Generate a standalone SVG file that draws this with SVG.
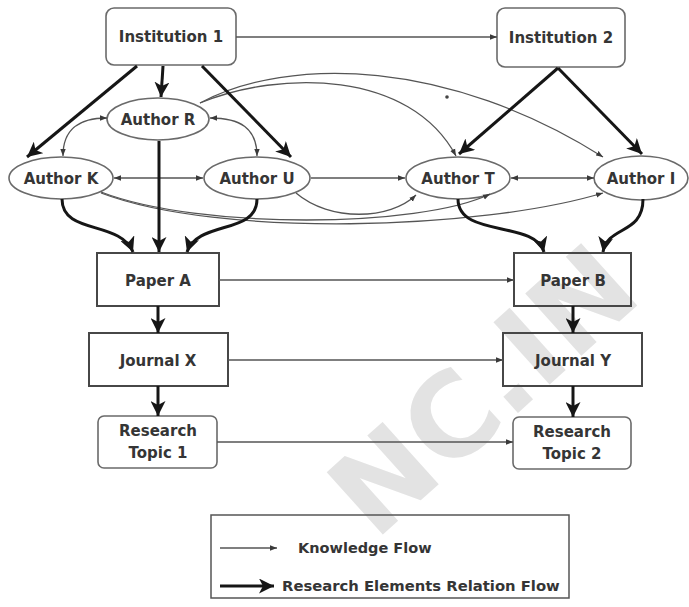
<svg xmlns="http://www.w3.org/2000/svg" width="689" height="607" viewBox="0 0 689 607">
  <style>
    .lbl { font-family: "DejaVu Sans", "Liberation Sans", sans-serif; font-weight: bold; font-size: 15px; fill: #353535; text-anchor: middle; }
    .leg { font-family: "DejaVu Sans", "Liberation Sans", sans-serif; font-weight: bold; fill: #353535; }
    .rbox { fill: none; stroke: #6a6a6a; stroke-width: 1.6; }
    .sbox { fill: none; stroke: #474747; stroke-width: 2; }
    .ell { fill: none; stroke: #6a6a6a; stroke-width: 1.6; }
    .thin { fill: none; stroke: #555; stroke-width: 1.3; marker-end: url(#tip); }
    .both { marker-start: url(#tip); }
    .thick { fill: none; stroke: #161616; stroke-width: 3; marker-end: url(#head); }
    .wm { font-family: "DejaVu Sans", "Liberation Sans", sans-serif; font-weight: bold; font-size: 115px; fill: #e3e3e3; text-anchor: middle; }
  </style>
  <defs>
    <marker id="tip" markerUnits="userSpaceOnUse" markerWidth="7" markerHeight="7" viewBox="0 0 7 7" refX="7" refY="3.5" orient="auto-start-reverse">
      <path d="M0,0.8 L7,3.5 L0,6.2 z" fill="#3a3a3a"/>
    </marker>
    <marker id="head" markerUnits="userSpaceOnUse" markerWidth="15" markerHeight="15" viewBox="0 0 15 15" refX="15" refY="7.5" orient="auto">
      <path d="M0,0 L15,7.5 L0,15 L4,7.5 z" fill="#161616"/>
    </marker>
  </defs>

  <rect width="689" height="607" fill="#ffffff"/>

  <!-- background watermark -->
  <text class="wm" transform="translate(510,420) rotate(-42)">NC.IN</text>

  <!-- nodes -->
  <g id="institution1"><rect class="rbox" x="106" y="8" width="130" height="57" rx="8"/><text class="lbl" x="171" y="42">Institution 1</text></g>
  <g id="institution2"><rect class="rbox" x="497" y="8" width="128" height="59" rx="8"/><text class="lbl" x="561" y="43">Institution 2</text></g>
  <g id="authorR"><ellipse class="ell" cx="158" cy="119" rx="51" ry="21"/><text class="lbl" x="158" y="124.5">Author R</text></g>
  <g id="authorK"><ellipse class="ell" cx="61" cy="178" rx="52" ry="21"/><text class="lbl" x="61" y="183.5">Author K</text></g>
  <g id="authorU"><ellipse class="ell" cx="257" cy="178" rx="53" ry="21"/><text class="lbl" x="257" y="183.5">Author U</text></g>
  <g id="authorT"><ellipse class="ell" cx="458" cy="178" rx="52" ry="21"/><text class="lbl" x="458" y="183.5">Author T</text></g>
  <g id="authorI"><ellipse class="ell" cx="641" cy="178" rx="47" ry="22"/><text class="lbl" x="641" y="183.5">Author I</text></g>
  <g id="paperA"><rect class="sbox" x="97" y="253" width="122" height="53"/><text class="lbl" x="158" y="285.5">Paper A</text></g>
  <g id="paperB"><rect class="sbox" x="514" y="253" width="117" height="53"/><text class="lbl" x="573" y="285.5">Paper B</text></g>
  <g id="journalX"><rect class="sbox" x="89" y="333" width="139" height="53"/><text class="lbl" x="158" y="365.5">Journal X</text></g>
  <g id="journalY"><rect class="sbox" x="503" y="333" width="139" height="53"/><text class="lbl" x="573" y="365.5">Journal Y</text></g>
  <g id="topic1"><rect class="rbox" x="98" y="416" width="119" height="52" rx="6"/><text class="lbl" x="158" y="435.5">Research</text><text class="lbl" x="158" y="457.5">Topic 1</text></g>
  <g id="topic2"><rect class="rbox" x="513" y="417" width="118" height="52" rx="6"/><text class="lbl" x="572" y="436.5">Research</text><text class="lbl" x="572" y="458.5">Topic 2</text></g>

  <!-- connectors -->
  <g id="connectors">
    <!-- knowledge flow -->
    <path class="thin" d="M236,37 L497,37"/>
    <path class="thin both" d="M107,118 C80,118 63,128 63,156"/>
    <path class="thin both" d="M210,118 C240,118 257,128 257,156"/>
    <path class="thin both" d="M114,178 L203,178"/>
    <path class="thin" d="M311,178 L405,178"/>
    <path class="thin both" d="M511,178 L594,178"/>
    <path class="thin" d="M200,103 C280,70 410,70 456,156"/>
    <path class="thin" d="M200,103 C290,55 450,60 603,157"/>
    <path class="thin" d="M101,192 C200,230 420,228 490,194"/>
    <path class="thin" d="M101,193 C220,238 480,230 603,193"/>
    <path class="thin" d="M296,193 C330,222 390,220 416,195"/>
    <path class="thin" d="M219,280 L514,280"/>
    <path class="thin" d="M228,360 L503,360"/>
    <path class="thin" d="M217,442 L513,442"/>
    <circle cx="447" cy="97" r="1.8" fill="#444"/>

    <!-- research elements relation flow -->
    <path class="thick" d="M137,66 L27,157"/>
    <path class="thick" d="M163,66 L161,97"/>
    <path class="thick" d="M202,66 L291,157"/>
    <path class="thick" d="M558,68 L459,154"/>
    <path class="thick" d="M558,68 L642,154"/>
    <path class="thick" d="M62,199 C62,235 120,220 133,252"/>
    <path class="thick" d="M159,141 L159,252"/>
    <path class="thick" d="M257,199 C257,235 198,220 187,252"/>
    <path class="thick" d="M458,199 C458,238 535,220 544,252"/>
    <path class="thick" d="M643,199 C643,235 608,225 603,252"/>
    <path class="thick" d="M158,306 L158,333"/>
    <path class="thick" d="M158,386 L158,416"/>
    <path class="thick" d="M573,306 L573,333"/>
    <path class="thick" d="M573,386 L573,417"/>
  </g>

  <!-- legend -->
  <g id="legend">
    <rect x="211" y="515" width="358" height="83" fill="none" stroke="#555" stroke-width="1.5"/>
    <path class="thin" d="M220,548 L277,548"/>
    <text class="leg" x="298" y="553" font-size="14.5">Knowledge Flow</text>
    <path class="thick" d="M220,586 L274,586" stroke-width="3.5"/>
    <text class="leg" x="282" y="591" font-size="14.8">Research Elements Relation Flow</text>
  </g>
</svg>
